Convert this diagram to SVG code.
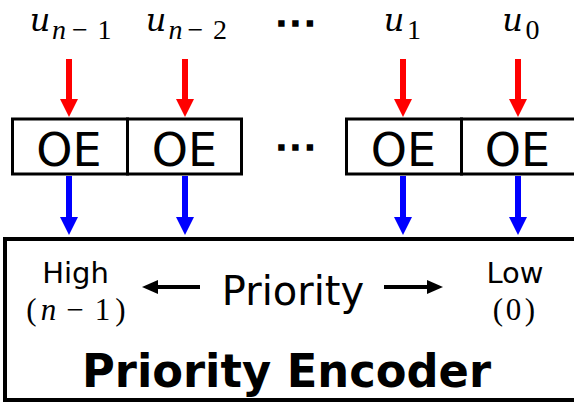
<svg xmlns="http://www.w3.org/2000/svg" width="574" height="402" viewBox="0 0 574 402">
<defs>
<style>
.box{fill:#fff;stroke:#000;stroke-width:3}
.big{fill:#fff;stroke:#000;stroke-width:4}
.oe{font-family:"DejaVu Sans",Verdana,sans-serif;font-size:46px;text-anchor:middle;fill:#000}
.lbl{font-family:"DejaVu Sans",Verdana,sans-serif;font-size:29px;text-anchor:middle;fill:#000}
.pri{font-family:"DejaVu Sans",Verdana,sans-serif;font-size:40px;text-anchor:middle;fill:#000}
.title{font-family:"DejaVu Sans",Verdana,sans-serif;font-size:46px;font-weight:bold;text-anchor:middle;fill:#000}
.dots{font-family:"DejaVu Sans",Verdana,sans-serif;font-size:27px;font-weight:bold;text-anchor:middle;fill:#000;stroke:#000;stroke-width:1.6}
.m{font-family:"Liberation Serif","Times New Roman",serif;text-anchor:middle;fill:#000}
.u{font-family:"DejaVu Serif","Liberation Serif",serif;font-style:italic;font-size:32px}
.mi{font-style:italic}
.red{stroke:#ff0000;stroke-width:6;fill:none}
.blue{stroke:#0000ff;stroke-width:6;fill:none}
.blk{stroke:#000;stroke-width:4;fill:none}
</style>
<marker id="hr" viewBox="0 0 18 18" refX="0" refY="9" markerWidth="18" markerHeight="18" markerUnits="userSpaceOnUse" orient="auto"><path d="M0,0 L18,9 L0,18 Z" fill="#ff0000"/></marker>
<marker id="hb" viewBox="0 0 18 18" refX="0" refY="9" markerWidth="18" markerHeight="18" markerUnits="userSpaceOnUse" orient="auto"><path d="M0,0 L18,9 L0,18 Z" fill="#0000ff"/></marker>
<marker id="hk" viewBox="0 0 16 14" refX="0" refY="7" markerWidth="16" markerHeight="14" markerUnits="userSpaceOnUse" orient="auto"><path d="M0,0 L16,7 L0,14 Z" fill="#000"/></marker>
</defs>
<rect width="574" height="402" fill="#fff"/>

<g id="input-labels">
<g id="u-n-1" class="m">
<text x="40" y="31" class="u">u</text>
<text x="59" y="39" font-size="28" class="mi">n</text>
<text x="80" y="39" font-size="28">−</text>
<text x="104.5" y="39" font-size="28">1</text>
</g>
<g id="u-n-2" class="m">
<text x="156" y="31" class="u">u</text>
<text x="175.5" y="39" font-size="28" class="mi">n</text>
<text x="195.5" y="39" font-size="28">−</text>
<text x="220" y="39" font-size="28">2</text>
</g>
<g id="u-1" class="m">
<text x="394" y="31" class="u">u</text>
<text x="414" y="39" font-size="28">1</text>
</g>
<g id="u-0" class="m">
<text x="512.5" y="31" class="u">u</text>
<text x="532.5" y="39" font-size="28">0</text>
</g>
<text id="dots-top" class="dots" x="281.5 295.5 310" y="25.5">...</text>
</g>

<g id="oe-n-1"><rect class="box" x="12.5" y="119" width="115" height="55"/><text class="oe" x="69" y="166">OE</text></g>
<g id="oe-n-2"><rect class="box" x="127.5" y="119" width="114" height="55"/><text class="oe" x="184.5" y="166">OE</text></g>
<text id="dots-mid" class="dots" x="281.5 295.5 310" y="149.5">...</text>
<g id="oe-1"><rect class="box" x="346.5" y="119" width="115" height="55"/><text class="oe" x="403.5" y="166">OE</text></g>
<g id="oe-0"><rect class="box" x="461.5" y="119" width="115" height="55"/><text class="oe" x="517.5" y="166">OE</text></g>

<g id="priority-encoder">
<rect class="big" x="5" y="239" width="600" height="161"/>
<text class="lbl" x="75.5" y="283">High</text>
<g class="m" font-size="31">
<text x="31.5" y="320">(</text>
<text x="48.5" y="320" class="mi">n</text>
<text x="75" y="320">−</text>
<text x="102.5" y="320">1</text>
<text x="120.5" y="320">)</text>
</g>
<text class="pri" x="293" y="305">Priority</text>
<text class="lbl" x="515" y="283">Low</text>
<g class="m" font-size="31">
<text x="498" y="320">(</text>
<text x="513.5" y="320">0</text>
<text x="530" y="320">)</text>
</g>
<text class="title" x="286.5" y="387" textLength="409" lengthAdjust="spacingAndGlyphs">Priority Encoder</text>
</g>

<g id="connectors">
<line class="red" x1="69" y1="59" x2="69" y2="99" marker-end="url(#hr)"/>
<line class="red" x1="185" y1="59" x2="185" y2="99" marker-end="url(#hr)"/>
<line class="red" x1="403" y1="59" x2="403" y2="99" marker-end="url(#hr)"/>
<line class="red" x1="518" y1="59" x2="518" y2="99" marker-end="url(#hr)"/>
<line class="blue" x1="69" y1="176" x2="69" y2="217" marker-end="url(#hb)"/>
<line class="blue" x1="185" y1="176" x2="185" y2="217" marker-end="url(#hb)"/>
<line class="blue" x1="403" y1="176" x2="403" y2="217" marker-end="url(#hb)"/>
<line class="blue" x1="518" y1="176" x2="518" y2="217" marker-end="url(#hb)"/>
<line class="blk" x1="200" y1="287" x2="158" y2="287" marker-end="url(#hk)"/>
<line class="blk" x1="384" y1="287" x2="427" y2="287" marker-end="url(#hk)"/>
</g>
</svg>
